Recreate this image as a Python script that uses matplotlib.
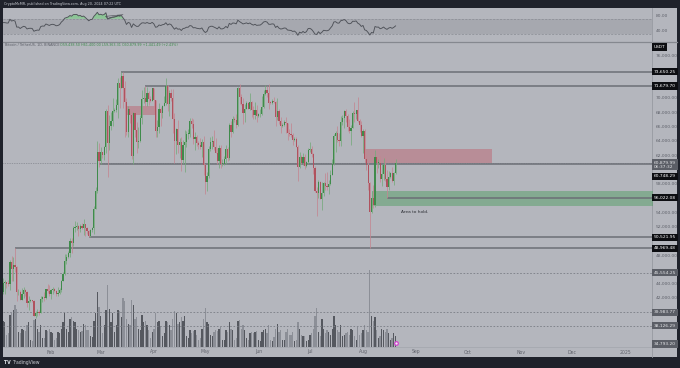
import numpy as np
import pandas as pd
import matplotlib
matplotlib.use('Agg')
import matplotlib.pyplot as plt
import matplotlib.dates as mdates
import matplotlib.transforms as mtransforms
from matplotlib.patches import Rectangle
from matplotlib.lines import Line2D

# BTC/USDT daily candles (Binance), 2024-01-01 .. 2024-08-20
closes = [
    # Jan
    44179, 44946, 42845, 44151, 44162, 43989, 43943, 46970, 46105, 46633,
    46345, 42782, 42847, 41732, 42511, 43137, 42776, 41262, 41618, 41665,
    41545, 39507, 39845, 40077, 39933, 41816, 42120, 42031, 43300, 42941, 42580,
    # Feb
    43082, 43200, 43011, 42582, 42708, 43098, 44349, 45288, 47132, 47751,
    48299, 49917, 49699, 51795, 51880, 52124, 51642, 52138, 51780, 52284,
    51839, 51304, 50731, 51571, 51733, 54476, 57037, 62432, 61130,
    # Mar
    62387, 61987, 63113, 68245, 63724, 66074, 66823, 68124, 68313, 68955,
    72078, 71452, 73072, 71388, 69499, 65300, 68393, 67609, 61937, 67840,
    65501, 63796, 64037, 67211, 69880, 69988, 69455, 70744, 69892, 69645, 71333,
    # Apr
    69702, 65446, 65980, 68508, 67837, 68896, 69360, 71620, 69146, 70631,
    70006, 67116, 63924, 65661, 63419, 63793, 61277, 63470, 63818, 64940,
    64941, 66837, 66407, 64276, 64481, 63755, 63419, 63113, 63841, 60636,
    # May
    58254, 59123, 62889, 63891, 64031, 63161, 62334, 61187, 63049, 60792,
    60793, 61448, 62901, 61552, 66256, 65231, 67051, 66940, 66278, 71446,
    70136, 69122, 67929, 68526, 69265, 68518, 69394, 68296, 67578, 68364, 67491,
    # Jun
    67706, 67751, 68804, 70567, 71082, 70757, 69342, 69305, 69648, 69508,
    67313, 68243, 66756, 66012, 66191, 66639, 66490, 65140, 64960, 64828,
    64096, 64252, 63181, 60277, 61806, 60864, 61706, 60427, 60986, 62772,
    # Jul
    62900, 62100, 60197, 57042, 56662, 58231, 55857, 56705, 58051, 57716,
    57525, 57889, 59204, 60797, 64724, 65043, 64087, 63987, 66661, 67139,
    68165, 67533, 65936, 65373, 65777, 67904, 67813, 68255, 66819, 66201, 64619,
    # Aug
    65357, 61415, 60680, 58116, 53991, 56034, 55027, 61710, 60881, 60945,
    58712, 59346, 60587, 58683, 57541, 58874, 59491, 58427, 59438.5, 60879.99,
]
highs = [
    44184, 45879, 45500, 44729, 44500, 44266, 44500, 47248, 47893, 47695,
    48969.48, 46500, 43257, 43076, 43400, 43578, 43200, 42930, 42200, 41870,
    41700, 41650, 40129, 40500, 40300, 42225, 42200, 42842, 43305, 43882, 43745,
    43285, 43488, 43380, 43119, 43494, 43400, 44489, 45614, 48200, 48170,
    48592, 50334, 50368, 52043, 52816, 52575, 52160, 52365, 52486, 53000,
    52370, 52000, 51550, 51700, 51950, 54910, 57588, 63968, 63676,
    63114, 62433, 63230, 68499, 69000, 67637, 67999, 69990, 68592, 69900,
    72800, 73000, 73650.25, 73600, 72357, 70000, 68918, 68124, 68106, 68029,
    68240, 66650, 65976, 67622, 71150, 71561, 71679.70, 71552, 70916, 70333, 71366,
    71342, 69702, 66914, 69291, 68725, 69009, 70327, 72797, 71758, 71172,
    71256, 71227, 67931, 65840, 66867, 64365, 64471, 64125, 65450, 65447,
    65723, 67233, 67208, 67075, 65275, 64789, 63923, 64370, 64227, 64734,
    60780, 59602, 63320, 64494, 64646, 65500, 64422, 62984, 63469, 63446,
    61490, 61818, 63450, 63118, 66444, 66752, 67451, 67400, 67700, 71515,
    71979, 70623, 70041, 69220, 69562, 69500, 70687, 69590, 68920, 69500, 69000,
    67857, 68409, 70288, 71063, 71758, 71625, 71997, 69563, 69850, 70148,
    69520, 69999, 68450, 67315, 66450, 66963, 67298, 66560, 65722, 66482,
    65066, 64525, 64521, 63370, 62480, 62068, 62293, 62189, 61224, 63058,
    63861, 63288, 62285, 60498, 57500, 58475, 58380, 58236, 58296, 59470,
    59650, 58581, 59850, 61420, 64900, 65388, 66128, 65133, 67487, 67598,
    68366, 68480, 67811, 67102, 66175, 68204, 69399, 68318, 70079, 66998, 66826,
    65593, 65596, 62198, 61117, 58305, 57040, 57800, 62745, 61800, 61470,
    61858, 60700, 61578, 61800, 59847, 59815, 59700, 60281, 59617, 61400,
]
lows = [
    42180, 44148, 40750, 42613, 42600, 43400, 43600, 43177, 44300, 44300,
    45606, 41500, 42436, 41720, 41718, 42050, 42200, 40683, 40280, 41423,
    41400, 39450, 39200, 39480, 39550, 39824, 41394, 41620, 41804, 42683, 42276,
    41884, 42584, 42880, 42222, 42258, 42574, 42788, 44331, 45242, 46800,
    47557, 47710, 48300, 49225, 51300, 51577, 50625, 51163, 51680, 50800,
    50625, 50900, 50521.95, 50583, 51280, 50901, 54450, 56686, 60364,
    60777, 61561, 61320, 62300, 59005, 62787, 65556, 66082, 68000, 68086,
    67194, 68620, 71334, 68555, 64555, 64780, 64533, 66565, 61500, 60775,
    64529, 62260, 63000, 63794, 66385, 69280, 68381, 68900, 69009, 69501, 69562,
    68110, 64550, 64493, 65064, 66011, 67244, 68813, 69041, 68210, 67518,
    69571, 65086, 60919, 62134, 62274, 61600, 59768, 60775, 59600, 63160,
    64237, 64500, 65864, 63589, 62783, 63322, 62824, 62793, 61793, 59191,
    56552, 56937, 58848, 62599, 62822, 62700, 62261, 60800, 60187, 60148,
    60492, 60632, 60749, 61142, 61330, 64602, 65106, 66600, 65857, 66060,
    69162, 68977, 66312, 66622, 68515, 68456, 68250, 67278, 67075, 67118, 66670,
    67386, 67315, 67612, 68564, 70390, 70119, 68420, 69210, 69130, 69250,
    66051, 66900, 66304, 65078, 65871, 66020, 65130, 64060, 64693, 64559,
    63379, 63943, 63180, 58402, 60250, 60692, 60585, 60082, 60390, 60718,
    62496, 61800, 59400, 56771, 53485, 56015, 55793, 54260, 56289, 57157,
    57050, 56600, 57756, 59200, 60632, 62373, 63854, 63238, 63300, 66222,
    65777, 66573, 65441, 65111, 63456, 65732, 66676, 67066, 66703, 65302, 64526,
    62248, 61200, 59850, 57122, 49000, 53962, 54558, 54750, 59500, 60242,
    58286, 57642, 58478, 58433, 56022.08, 57098, 58785, 58300, 57862, 59363.31,
]
# volume, thousand BTC
volumes = [
    36, 50, 55, 42, 40, 20, 22, 52, 55, 60, 68, 62, 25, 22, 30, 28, 26, 36, 40, 12,
    10, 44, 45, 30, 25, 35, 14, 15, 28, 26, 30,
    25, 22, 12, 15, 24, 22, 30, 40, 55, 30, 25, 45, 48, 42, 40, 30, 28, 24, 26, 38,
    36, 28, 28, 18, 16, 42, 55, 90, 65,
    50, 22, 35, 60, 101, 62, 40, 55, 25, 35, 60, 58, 48, 79, 75, 45, 38, 36, 77, 68,
    45, 48, 30, 28, 52, 40, 42, 35, 28, 15, 25,
    30, 55, 40, 42, 34, 18, 22, 42, 40, 35, 28, 45, 58, 55, 38, 40, 48, 42, 50, 18,
    15, 28, 22, 26, 28, 20, 12, 14, 30, 45,
    63, 40, 38, 20, 18, 25, 28, 26, 30, 32, 12, 12, 28, 25, 40, 30, 28, 12, 14, 42,
    44, 30, 36, 28, 14, 12, 22, 25, 22, 24, 26,
    12, 10, 25, 28, 30, 22, 36, 12, 10, 16, 30, 38, 25, 28, 12, 12, 24, 30, 20, 20,
    24, 10, 12, 40, 30, 20, 18, 18, 10, 12,
    20, 22, 30, 50, 63, 25, 18, 45, 30, 22, 28, 25, 20, 30, 50, 35, 28, 25, 35, 18,
    20, 22, 25, 20, 30, 28, 18, 12, 32, 20, 22,
    28, 35, 28, 25, 125, 50, 42, 48, 28, 15, 18, 30, 28, 24, 30, 22, 12, 14, 22, 18,
]
# Dec 2023 closes, only used to warm up the RSI
dec_closes = [38688, 39472, 39973, 41991, 44073, 43775, 43292, 44171, 43713, 43789,
              41253, 41492, 42870, 43023, 41930, 42240, 41365, 42657, 42275, 43668,
              43861, 43997, 43740, 43016, 43613, 42520, 43442, 42628, 42099, 42156, 42283]

# drawn levels (black labels) and where each line starts
levels = [73650.25, 71679.70, 60748.29, 56022.08, 50521.95, 48969.48]
level_starts = ['2024-03-13', '2024-03-27', '2024-02-29', '2024-08-15', '2024-02-23', '2024-01-11']
dotted_levels = [45554.25, 39983.77, 38126.29]
last_price = 60879.99
bottom_level = 34793.20
red_zones = [('2024-03-16', '2024-04-02', 67600, 68900),
             ('2024-08-02', '2024-10-15', 60900, 62900)]
green_zone = ('2024-08-06', 54900, 56950)
rsi_marks_dates = ['2024-03-04', '2024-03-14', '2024-03-05', '2024-03-04']
rsi_marks_vals = [76.5, 81, 69.5, 76.5]
month_ticks = ['2024-02-01', '2024-03-01', '2024-04-01', '2024-05-01', '2024-06-01', '2024-07-01',
               '2024-08-01', '2024-09-01', '2024-10-01', '2024-11-01', '2024-12-01', '2025-01-01']
month_labels = ['Feb', 'Mar', 'Apr', 'May', 'Jun', 'Jul', 'Aug', 'Sep', 'Oct', 'Nov', 'Dec', '2025']

dates = pd.date_range('2024-01-01', periods=len(closes), freq='D')
opens = (dec_closes[-1:] + closes)[:-1]

# RSI 14 (Wilder)
all_c = pd.Series(dec_closes + closes, dtype=float)
delta = all_c.diff()
gain = delta.clip(lower=0).ewm(alpha=1 / 14, adjust=False).mean()
loss = (-delta.clip(upper=0)).ewm(alpha=1 / 14, adjust=False).mean()
rsi = (100 - 100 / (1 + gain / loss)).to_numpy()[len(dec_closes):]

W, H = 680, 368
BG = '#b4b6bd'
DARK = '#1f222b'
TXT = '#5f626b'

fig = plt.figure(figsize=(W / 100, H / 100), dpi=100, facecolor=DARK)


def fb(x0, y0, x1, y1):
    # pixel box (top-left origin) -> figure rect
    return [x0 / W, 1 - y1 / H, (x1 - x0) / W, (y1 - y0) / H]


fig.add_artist(Rectangle((3 / W, 1 - 357 / H), 674 / W, 349 / H, transform=fig.transFigure,
                         fc=BG, ec='none', zorder=-5))

ax_rsi = fig.add_axes(fb(3, 8, 652, 41))
ax = fig.add_axes(fb(3, 42, 652, 347))
ax_vol = ax.twinx()
ax.set_zorder(2)
ax.patch.set_visible(False)
ax_rsi.patch.set_visible(False)

x = mdates.date2num(dates)
o = np.array(opens, dtype=float)
c = np.array(closes, dtype=float)
h = np.array(highs, dtype=float)
l = np.array(lows, dtype=float)
up = c >= o

xlo = mdates.date2num(pd.Timestamp('2024-01-01')) + 2.98
xhi = mdates.date2num(pd.Timestamp('2024-01-01')) + 381.6
ylo, yhi = 35126, 77843

# volume
vcol = np.where(up, '#55585f', '#8c8f97')
ax_vol.bar(x, volumes, width=0.75, color=vcol, lw=0)
ax_vol.set_ylim(0, max(volumes) / 0.252)
ax_vol.set_yticks([])
for s in ax_vol.spines.values():
    s.set_visible(False)

# zones
for d0, d1, lo_, hi_ in red_zones:
    ax.fill_between(mdates.date2num(pd.to_datetime([d0, d1])), lo_, hi_, color='#c0505e', alpha=0.4, lw=0, zorder=1)
gz = mdates.date2num(pd.to_datetime([green_zone[0], '2025-03-01']))
ax.fill_between(gz, green_zone[1], green_zone[2], color='#3e9a50', alpha=0.4, lw=0, zorder=1)

# horizontal levels
far = mdates.date2num(pd.Timestamp('2025-03-01'))
for lv, st in zip(levels, level_starts):
    ax.hlines(lv, mdates.date2num(pd.Timestamp(st)), far, color='#6c6f76', lw=1.1, zorder=2)
for lv in dotted_levels:
    ax.axhline(lv, color='#7a7d85', lw=0.6, ls=(0, (2, 2)), zorder=2)
ax.axhline(last_price, color='#6f727a', lw=0.5, ls=(0, (1, 1.5)), zorder=2)

# candles
wick = np.where(up, '#76a97c', '#c38791')
body = np.where(up, '#3f8b4b', '#b0525e')
ax.vlines(x, l, h, colors=wick, lw=0.55, zorder=3)
ax.bar(x, np.maximum(np.abs(c - o), 110), bottom=np.minimum(o, c), width=0.72, color=body, lw=0, zorder=4)

ax.text(mdates.date2num(pd.Timestamp('2024-08-23')), 54030, 'Area to hold.', fontsize=3.1,
        color='#2b2d33', va='center', ha='left', zorder=6)

for s in ax.spines.values():
    s.set_visible(False)
for s in ax_rsi.spines.values():
    s.set_visible(False)

# price scale: TradingView hides tick labels sitting under a label box
box_prices = levels + dotted_levels + [last_price, ylo + 420]
ticks = [t for t in range(36000, 78000, 2000) if min(abs(t - b) for b in box_prices) > 800]
ax.yaxis.tick_right()
ax.set_yticks(ticks)
ax.set_yticklabels([f'{t:,.2f}' for t in ticks])
ax.tick_params(axis='y', length=0, pad=2.5, labelsize=3.2, labelcolor=TXT)
ax.set_xticks(mdates.date2num(pd.to_datetime(month_ticks)))
ax.set_xticklabels(month_labels)
ax.tick_params(axis='x', length=0, pad=1.8, labelsize=3.3, labelcolor=TXT)
ax.set_xlim(xlo, xhi)
ax.set_ylim(ylo, yhi)
ax_rsi.set_xlim(xlo, xhi)

# price axis labels
ytr = mtransforms.blended_transform_factory(ax.transAxes, ax.transData)


def axis_label(y, text, fc, tc='white', dy=0, va='center'):
    tr = mtransforms.offset_copy(ytr, fig=fig, x=0, y=dy, units='dots')
    ax.text(1.003, y, text, transform=tr, fontsize=3.2, color=tc, va=va, ha='left', zorder=10,
            clip_on=False, linespacing=1.05,
            bbox=dict(boxstyle='square,pad=0.35', fc=fc, ec='none'))


for lv in levels:
    dy = -12 if lv == 60748.29 else 0
    axis_label(lv, f'{lv:,.2f}', '#0d0e12', dy=dy)
for lv in dotted_levels:
    axis_label(lv, f'{lv:,.2f}', '#5b5e66', tc='#e4e5e8')
axis_label(last_price, f'{last_price:,.2f}\n06:37:32', '#5b5e66', tc='#e4e5e8', dy=2.5, va='top')
axis_label(max(bottom_level, ylo), f'{bottom_level:,.2f}', '#5b5e66', tc='#e4e5e8', dy=3)

# event marker at last bar
ax.plot([x[-1]], [0.012], transform=mtransforms.blended_transform_factory(ax.transData, ax.transAxes),
        marker='o', ms=2.6, mfc='#f3e6f3', mec='#cf45cf', mew=0.9, zorder=8, clip_on=False)

# RSI pane
ax_rsi.axhspan(30, 70, color='#a6a8af', lw=0, zorder=0)
for lv in (70, 30):
    ax_rsi.axhline(lv, color='#888b93', lw=0.5, ls=(0, (3, 2)), zorder=1)
ax_rsi.fill_between(x, rsi, 70, where=rsi > 70, interpolate=True, color='#8cc596', lw=0, zorder=2)
ax_rsi.plot(x, rsi, color='#4e5158', lw=0.65, zorder=3)
ax_rsi.plot(mdates.date2num(pd.to_datetime(rsi_marks_dates)), rsi_marks_vals, color='#505359', lw=0.45, zorder=4)
ax_rsi.set_xticks([])
ax_rsi.yaxis.tick_right()
ax_rsi.set_yticks([80, 40])
ax_rsi.set_yticklabels(['80.00', '40.00'])
ax_rsi.tick_params(axis='y', length=0, pad=2.5, labelsize=3.2, labelcolor=TXT)
ax_rsi.set_ylim(10.7, 98.7)
ax_rsi.set_xlim(xlo, xhi)

# frame lines
fig.add_artist(Line2D([3 / W, 677 / W], [1 - 41.5 / H] * 2, transform=fig.transFigure, color='#85888f', lw=0.9))
fig.add_artist(Line2D([652 / W] * 2, [1 - 357 / H, 1 - 8 / H], transform=fig.transFigure, color='#979aa1', lw=0.6))
fig.add_artist(Line2D([3 / W, 652 / W], [1 - 347.3 / H] * 2, transform=fig.transFigure, color='#a2a5ac', lw=0.5))

# texts
fig.text(4 / W, 1 - 4 / H, 'CryptoMcMR, published on TradingView.com, Aug 20, 2024 07:22 UTC',
         fontsize=2.4, color='#c9ccd3', va='center', ha='left')
fig.text(5 / W, 1 - 45.5 / H, 'Bitcoin / TetherUS, 1D, BINANCE', fontsize=2.4, color='#5a5d66', va='center')
fig.text(60 / W, 1 - 45.5 / H, 'O59,438.50 H61,400.00 L59,363.31 C60,879.99 +1,441.49 (+2.43%)',
         fontsize=2.4, color='#3d8a4c', va='center')
fig.text(654 / W, 1 - 47 / H, 'USDT', fontsize=3.1, color='white', va='center', ha='left',
         bbox=dict(boxstyle='square,pad=0.35', fc='#0d0e12', ec='none'))
fig.text(4 / W, 1 - 362.5 / H, 'TV', fontsize=3.3, color='#e0e2e8', weight='bold', va='center')
fig.text(12 / W, 1 - 362.5 / H, 'TradingView', fontsize=3.3, color='#c9ccd3', va='center')

fig.savefig('out.png', dpi=100, facecolor=DARK)
